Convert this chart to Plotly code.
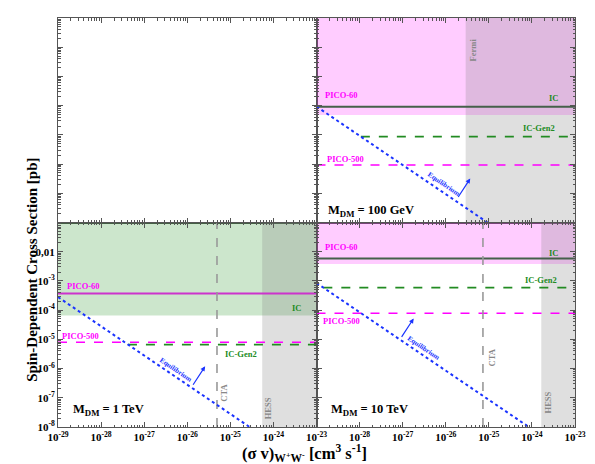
import numpy as np
import plotly.graph_objects as go
from plotly.subplots import make_subplots

# axis ranges (sigma v in cm^3/s, sigma_SD in pb)
sv_range = [1e-29, 1e-23]
sd_range = [1e-8, 1e-1]

# tick labels
x_tickvals = [1e-29, 1e-28, 1e-27, 1e-26, 1e-25, 1e-24, 1e-23]
x_ticktext = ["10<sup>-29</sup>", "10<sup>-28</sup>", "10<sup>-27</sup>", "10<sup>-26</sup>",
              "10<sup>-25</sup>", "10<sup>-24</sup>", "10<sup>-23</sup>"]
y_tickvals = [1e-8, 1e-7, 1e-6, 1e-5, 1e-4, 1e-3, 1e-2]
y_ticktext = ["10<sup>-8</sup>", "10<sup>-7</sup>", "10<sup>-6</sup>", "10<sup>-5</sup>",
              "10<sup>-4</sup>", "10<sup>-3</sup>", "0,01"]

# panel order: 100 GeV (top right), 1 TeV (bottom left), 10 TeV (bottom right)
masses = ["100 GeV", "1 TeV", "10 TeV"]

# equilibrium line end points
eq_sv = [[1e-29, 9.3e-26], [1e-29, 2.8e-25], [1e-29, 8.5e-25]]
eq_sd = [[9.3e-5, 1e-8], [2.8e-4, 1e-8], [8.5e-4, 1e-8]]

# direct detection / neutrino limits
pico60 = [4.8e-5, 3.7e-4, 3.8e-3]
pico500 = [9.3e-7, 8.0e-6, 7.8e-5]
icecube = [9.2e-5, 6.5e-5, 5.9e-3]
icgen2 = [8.7e-6, 6.6e-6, 5.9e-4]
icgen2_start = [1.07e-28, 4.2e-28, 1.44e-29]
# which limit is drawn as the shaded band
band_from = ["PICO-60", "IC", "PICO-60"]

# gamma-ray limits
gamma_excl_name = ["Fermi", "HESS", "HESS"]
gamma_excl = [2.9e-26, 5.5e-25, 1.65e-24]
cta = [None, 4.9e-26, 7.3e-26]

PINK = "rgba(255,0,255,0.2)"
GREEN_BAND = "rgba(0,128,0,0.2)"
GRAY_BAND = "rgba(128,128,128,0.25)"
MAGENTA = "#ff00ff"
DARK_MAGENTA = "#cc33cc"
GREEN = "#228b22"
IC_LINE = "#45604a"
BLUE = "#1a33ff"
GRAY_TXT = "#888888"
FONT = "Liberation Serif"

fig = make_subplots(rows=2, cols=2, horizontal_spacing=0, vertical_spacing=0)

# (row, col) of each panel
cells = [(1, 2), (2, 1), (2, 2)]
axis_ids = {(1, 1): "", (1, 2): "2", (2, 1): "3", (2, 2): "4"}


def rect(x0, x1, y0, y1, color, row, col):
    fig.add_trace(go.Scatter(
        x=[x0, x1, x1, x0, x0], y=[y0, y0, y1, y1, y0],
        fill="toself", fillcolor=color, mode="lines", line=dict(width=0),
        hoverinfo="skip", showlegend=False), row=row, col=col)


def hline(x0, x1, y, color, dash, width, row, col):
    fig.add_trace(go.Scatter(
        x=[x0, x1], y=[y, y], mode="lines",
        line=dict(color=color, dash=dash, width=width),
        hoverinfo="skip", showlegend=False), row=row, col=col)


def label(text, x, y, ax_id, color, size=8.5, anchor="left", angle=0, xshift=0):
    fig.add_annotation(
        text=text, x=np.log10(x), y=np.log10(y), xref="x" + ax_id, yref="y" + ax_id,
        showarrow=False, xanchor=anchor, yanchor="middle", textangle=angle,
        xshift=xshift,
        font=dict(family=FONT, size=size, color=color, weight="bold"))


xmin, xmax = sv_range
ymin, ymax = sd_range

# empty top-left panel (keeps its frame)
fig.add_trace(go.Scatter(x=sv_range, y=sd_range, mode="markers",
                         marker=dict(opacity=0), hoverinfo="skip", showlegend=False),
              row=1, col=1)

for i, (row, col) in enumerate(cells):
    # shaded excluded region
    if band_from[i] == "PICO-60":
        rect(xmin, xmax, pico60[i], ymax, PINK, row, col)
    else:
        rect(xmin, xmax, icecube[i], ymax, GREEN_BAND, row, col)

    # gamma-ray excluded region
    rect(gamma_excl[i], xmax, ymin, ymax, GRAY_BAND, row, col)

    # lines
    if band_from[i] == "PICO-60":
        hline(xmin, xmax, icecube[i], IC_LINE, "solid", 2, row, col)
    else:
        hline(xmin, xmax, pico60[i], DARK_MAGENTA, "solid", 2, row, col)
    hline(xmin, xmax, pico500[i], MAGENTA, "dash", 1.6, row, col)
    hline(icgen2_start[i], xmax, icgen2[i], GREEN, "dash", 1.6, row, col)

    if cta[i] is not None:
        fig.add_trace(go.Scatter(
            x=[cta[i], cta[i]], y=[ymin, ymax], mode="lines",
            line=dict(color="#999999", dash="dash", width=1.6),
            hoverinfo="skip", showlegend=False), row=row, col=col)

    fig.add_trace(go.Scatter(
        x=eq_sv[i], y=eq_sd[i], mode="lines",
        line=dict(color=BLUE, dash="dot", width=2),
        hoverinfo="skip", showlegend=False), row=row, col=col)

# --- text labels, 100 GeV panel ---
label("PICO-60", 1.4e-29, 2.3e-4, "2", MAGENTA)
label("IC", 4.6e-24, 1.8e-4, "2", GREEN, anchor="right")
label("IC-Gen2", 1.45e-24, 1.66e-5, "2", GREEN, anchor="center")
label("PICO-500", 1.6e-29, 1.5e-6, "2", MAGENTA)
label("Fermi", 4.3e-26, 7.8e-3, "2", GRAY_TXT, anchor="center", angle=-90)
label("M<sub>DM</sub> = 100 GeV", 1.7e-29, 2.4e-8, "2", "black", size=12.5)
label("Equilibrium", 8.7e-27, 2.0e-7, "2", BLUE, size=7, anchor="center", angle=34)

# --- 1 TeV panel ---
label("PICO-60", 1.45e-29, 6.6e-4, "3", MAGENTA)
label("IC", 4.8e-24, 1.2e-4, "3", GREEN, anchor="right")
label("IC-Gen2", 1.8e-25, 3.2e-6, "3", GREEN, anchor="center")
label("PICO-500", 1.1e-29, 1.3e-5, "3", MAGENTA)
label("CTA", 4.9e-26, 1.5e-7, "3", GRAY_TXT, anchor="center", angle=-90, xshift=7)
label("HESS", 7.8e-25, 4.3e-8, "3", GRAY_TXT, anchor="center", angle=-90)
label("M<sub>DM</sub> = 1 TeV", 2.0e-29, 3.7e-8, "3", "black", size=12.5)
label("Equilibrium", 5.4e-27, 8.7e-7, "3", BLUE, size=7, anchor="center", angle=34)

# --- 10 TeV panel ---
label("PICO-60", 1.38e-29, 1.5e-2, "4", MAGENTA)
label("IC", 4.6e-24, 8.9e-3, "4", GREEN, anchor="right")
label("IC-Gen2", 1.6e-24, 1.07e-3, "4", GREEN, anchor="center")
label("PICO-500", 1.26e-29, 4.1e-5, "4", MAGENTA)
label("CTA", 1.2e-25, 2.45e-6, "4", GRAY_TXT, anchor="center", angle=-90)
label("HESS", 2.4e-24, 7.1e-8, "4", GRAY_TXT, anchor="center", angle=-90)
label("M<sub>DM</sub> = 10 TeV", 2.0e-29, 3.7e-8, "4", "black", size=12.5)
label("Equilibrium", 3.0e-27, 5.1e-6, "4", BLUE, size=7, anchor="center", angle=34)

# equilibrium arrows (head position in data, tail offset in pixels)
arrow_heads = [("2", 3.7e-26, 3.2e-7), ("3", 2.6e-26, 1.2e-6), ("4", 1.8e-27, 5.2e-5)]
for aid, hx, hy in arrow_heads:
    fig.add_annotation(x=np.log10(hx), y=np.log10(hy), xref="x" + aid, yref="y" + aid,
                       ax=-13, ay=20, showarrow=True, arrowhead=2, arrowsize=0.8,
                       arrowwidth=1.2, arrowcolor=BLUE, text="")

# axes
tickfont = dict(family=FONT, size=11, color="black", weight="bold")
for (row, col), aid in axis_ids.items():
    show_x = row == 2
    show_y = (row, col) == (2, 1)
    if (row, col) == (2, 2):
        xt_vals, xt_text = x_tickvals[1:], x_ticktext[1:]
    else:
        xt_vals, xt_text = x_tickvals, x_ticktext
    fig.update_xaxes(
        type="log", range=[np.log10(xmin), np.log10(xmax)],
        tickvals=xt_vals, ticktext=xt_text, showticklabels=show_x,
        ticks="inside", ticklen=5, tickcolor="#555555",
        minor=dict(ticks="inside", ticklen=2.5, dtick="D1", tickcolor="#555555"),
        showline=True, linecolor="#555555", linewidth=1, mirror="ticks",
        showgrid=False, zeroline=False, tickfont=tickfont,
        row=row, col=col)
    fig.update_yaxes(
        type="log", range=[np.log10(ymin), np.log10(ymax)],
        tickvals=y_tickvals, ticktext=y_ticktext, showticklabels=show_y,
        ticks="inside", ticklen=5, tickcolor="#555555",
        minor=dict(ticks="inside", ticklen=2.5, dtick="D1", tickcolor="#555555"),
        showline=True, linecolor="#555555", linewidth=1, mirror="ticks",
        showgrid=False, zeroline=False, tickfont=tickfont,
        row=row, col=col)

# axis titles
fig.add_annotation(text="Spin-Dependent Cross Section [pb]", xref="paper", yref="paper",
                   x=-0.071, y=0.385, showarrow=False, textangle=-90,
                   font=dict(family=FONT, size=15, color="black", weight="bold"))
fig.add_annotation(text="(σ v)<sub>W<sup>+</sup>W<sup>-</sup></sub> [cm<sup>3</sup> s<sup>-1</sup>]",
                   xref="paper", yref="paper", x=0.476, y=-0.063, showarrow=False,
                   yanchor="middle",
                   font=dict(family=FONT, size=16.5, color="black", weight="bold"))

# page body adds an 8px margin, so the figure is 8px smaller than the window
fig.update_layout(
    width=587, height=456,
    margin=dict(l=50, r=15, t=9, b=37),
    plot_bgcolor="white", paper_bgcolor="white",
    showlegend=False,
)

fig.write_html("out.html")
